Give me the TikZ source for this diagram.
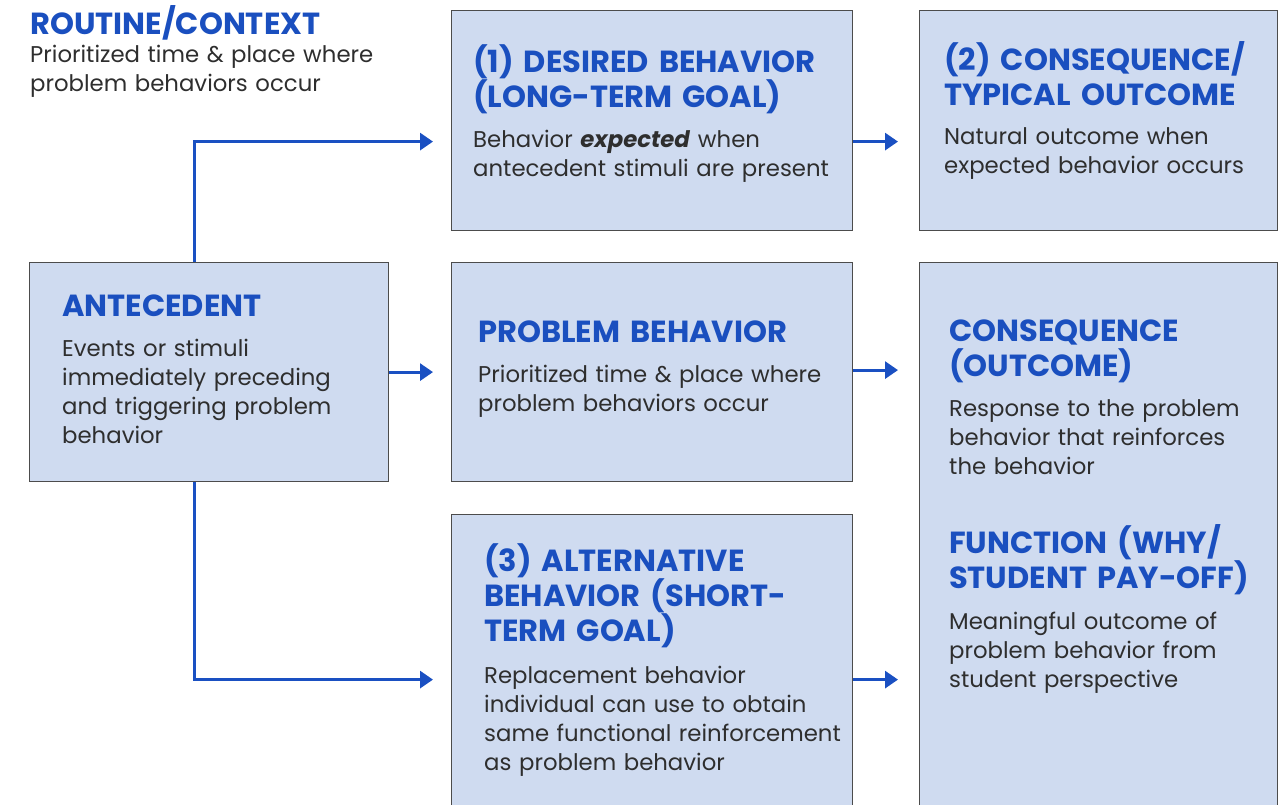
\documentclass[tikz,border=0pt]{standalone}
\usepackage{fontspec}
\setmainfont{Poppins}
\usetikzlibrary{arrows.meta}

\definecolor{boxfill}{HTML}{CFDBF0}
\definecolor{headblue}{HTML}{1A4FBF}
\definecolor{bodygray}{HTML}{2E2E2E}
\definecolor{flowblue}{HTML}{1A50C2}

\tikzset{
  box/.style={draw=black!70, fill=boxfill, line width=1.2pt, anchor=north west, inner sep=0pt},
  head/.style={anchor=base west, inner sep=0pt, text width=390pt, align=left,
    font=\fontsize{30.5}{35}\selectfont\bfseries, text=headblue},
  body/.style={anchor=base west, inner sep=0pt, text width=390pt, align=left,
    font=\fontsize{22.8}{29}\selectfont, text=bodygray},
  flow/.style={draw=flowblue, line width=3pt, -{Triangle[length=13pt,width=17pt]}},
}

\begin{document}
\begin{tikzpicture}[x=1pt, y=-1pt]
  \useasboundingbox (0,0) rectangle (1284,805);
  \clip (0,0) rectangle (1284,805);

  % boxes (the lower two run off the bottom edge)
  \node[box, minimum width=359pt, minimum height=219pt] (antecedent)  at (29,262)  {};
  \node[box, minimum width=401pt, minimum height=220pt] (desired)     at (451,10)  {};
  \node[box, minimum width=401pt, minimum height=219pt] (problem)     at (451,262) {};
  \node[box, minimum width=401pt, minimum height=330pt] (alternative) at (451,514) {};
  \node[box, minimum width=358pt, minimum height=220pt] (typical)     at (919,10)  {};
  \node[box, minimum width=358pt, minimum height=582pt] (outcome)     at (919,262) {};

  % routine / context
  \node[head] (routineHd) at (30,35) {ROUTINE/CONTEXT};
  \node[body] (routineTx) at (30,63) {Prioritized time \& place where\\problem behaviors occur};

  % antecedent
  \node[head] (antecedentHd) at (62,316) {ANTECEDENT};
  \node[body] (antecedentTx) at (62,356) {Events or stimuli\\immediately preceding\\and triggering problem\\behavior};

  % desired behavior
  \node[head] (desiredHd) at (473,73) {(1) DESIRED BEHAVIOR\\(LONG-TERM GOAL)};
  \node[body] (desiredTx) at (473,148) {Behavior \textbf{\textit{expected}} when\\antecedent stimuli are present};

  % problem behavior
  \node[head] (problemHd) at (478,342) {PROBLEM BEHAVIOR};
  \node[body] (problemTx) at (478,382) {Prioritized time \& place where\\problem behaviors occur};

  % alternative behavior
  \node[head] (alternativeHd) at (484,571) {(3) ALTERNATIVE\\BEHAVIOR (SHORT-\\TERM GOAL)};
  \node[body] (alternativeTx) at (484,683) {Replacement behavior\\individual can use to obtain\\same functional reinforcement\\as problem behavior};

  % typical outcome
  \node[head] (typicalHd) at (944,71) {(2) CONSEQUENCE/\\TYPICAL OUTCOME};
  \node[body] (typicalTx) at (944,145) {Natural outcome when\\expected behavior occurs};

  % consequence and function
  \node[head] (outcomeHd) at (949,341) {CONSEQUENCE\\(OUTCOME)};
  \node[body] (outcomeTx) at (949,416) {Response to the problem\\behavior that reinforces\\the behavior};
  \node[head] (functionHd) at (949,553) {FUNCTION (WHY/\\STUDENT PAY-OFF)};
  \node[body] (functionTx) at (949,629) {Meaningful outcome of\\problem behavior from\\student perspective};

  % connectors
  \draw[flow, shorten >=18pt] ([xshift=-14.5pt]antecedent.north) |- ([yshift=-21pt]desired.west);
  \draw[flow, shorten >=18pt] (antecedent.east) -- (problem.west);
  \draw[flow, shorten >=18pt] ([xshift=-14.5pt]antecedent.south) |- (alternative.west);
  \draw[flow, shorten >=21pt] ([yshift=-21pt]desired.east) -- ([yshift=-21pt]typical.west);
  \draw[flow, shorten >=21pt] ([yshift=2pt]problem.east) -- ([yshift=2pt]problem.east -| outcome.west);
  \draw[flow, shorten >=21pt] (alternative.east) -- (alternative.east -| outcome.west);
\end{tikzpicture}
\end{document}
